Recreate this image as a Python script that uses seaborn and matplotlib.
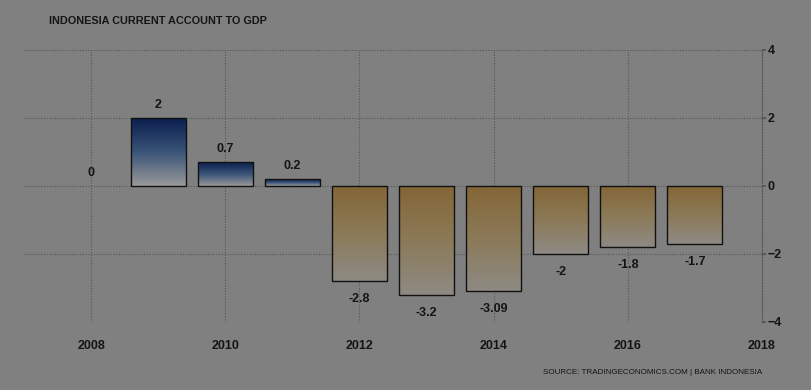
import matplotlib
matplotlib.use("Agg")
import matplotlib.pyplot as plt
import numpy as np
import pandas as pd
import seaborn as sns
from matplotlib.colors import LinearSegmentedColormap

# data
years = [2008, 2009, 2010, 2011, 2012, 2013, 2014, 2015, 2016, 2017]
values = [0, 2, 0.7, 0.2, -2.8, -3.2, -3.09, -2, -1.8, -1.7]
labels = ["0", "2", "0.7", "0.2", "-2.8", "-3.2", "-3.09", "-2", "-1.8", "-1.7"]
xticks = [2008, 2010, 2012, 2014, 2016, 2018]
yticks = [-4, -2, 0, 2, 4]

df = pd.DataFrame({"year": years, "value": values})

bg = "#808080"
txt = "#141414"
grid = "#555555"

sns.set_theme(style="white")
plt.rcParams["font.family"] = ["Liberation Sans", "DejaVu Sans"]

fig = plt.figure(figsize=(8.12, 3.9), dpi=100, facecolor=bg)
ax = fig.add_axes([24 / 812, 1 - 322 / 390, (762 - 24) / 812, (322 - 50) / 390])
ax.set_facecolor(bg)

sns.barplot(data=df, x="year", y="value", native_scale=True, width=0.82,
            color=bg, edgecolor="#111111", linewidth=1.0, ax=ax, zorder=3)

ax.set_xlim(2007, 2018)
ax.set_ylim(-4, 4)

# gradient fills
pos_cmap = LinearSegmentedColormap.from_list("pos", ["#0b1e4e", "#3a5478", "#9a9a9a"])
neg_cmap = LinearSegmentedColormap.from_list("neg", ["#846636", "#8b7a58", "#8e8a84"])
grad = np.linspace(0, 1, 256).reshape(-1, 1)
for bar, v in zip(ax.patches, values):
    if v == 0:
        bar.set_visible(False)
        continue
    x0 = bar.get_x()
    w = bar.get_width()
    y0 = bar.get_y()
    h = bar.get_height()
    top, bottom = max(y0, y0 + h), min(y0, y0 + h)
    cmap = pos_cmap if v > 0 else neg_cmap
    im = ax.imshow(grad, cmap=cmap, aspect="auto", extent=[x0, x0 + w, bottom, top],
                   origin="upper", zorder=2.5)
    im.set_clip_path(bar)
    bar.set_facecolor("none")

# value labels
for yr, v, lab in zip(years, values, labels):
    if v >= 0:
        ax.text(yr, v + 0.22, lab, ha="center", va="bottom", fontsize=9,
                fontweight="bold", color=txt)
    else:
        ax.text(yr, v - 0.36, lab, ha="center", va="top", fontsize=9,
                fontweight="bold", color=txt)

ax.set_xticks(xticks)
ax.set_xticklabels([str(t) for t in xticks])
ax.set_yticks(yticks)
ax.yaxis.tick_right()
ax.grid(True, linestyle=(0, (1, 1.5)), color=grid, linewidth=0.8, zorder=0)
ax.tick_params(axis="x", length=5, color=grid, pad=8, labelsize=9, labelcolor=txt)
ax.tick_params(axis="y", length=3, color=grid, pad=1, labelsize=9, labelcolor=txt)
for t in ax.get_xticklabels() + ax.get_yticklabels():
    t.set_fontweight("bold")
ax.set_xlabel("")
ax.set_ylabel("")
for s in ["top", "left", "bottom"]:
    ax.spines[s].set_visible(False)
ax.spines["right"].set_linestyle((0, (1, 1.5)))
ax.spines["right"].set_linewidth(0.8)
ax.spines["right"].set_color(grid)

fig.text(49 / 812, 1 - 21 / 390, "INDONESIA CURRENT ACCOUNT TO GDP", fontsize=7.8,
         fontweight="bold", color=txt, va="center", ha="left")
fig.text(762 / 812, 1 - 373 / 390, "SOURCE: TRADINGECONOMICS.COM | BANK INDONESIA",
         fontsize=5.8, color=txt, va="center", ha="right")

fig.savefig("out.png", dpi=100, facecolor=bg)
